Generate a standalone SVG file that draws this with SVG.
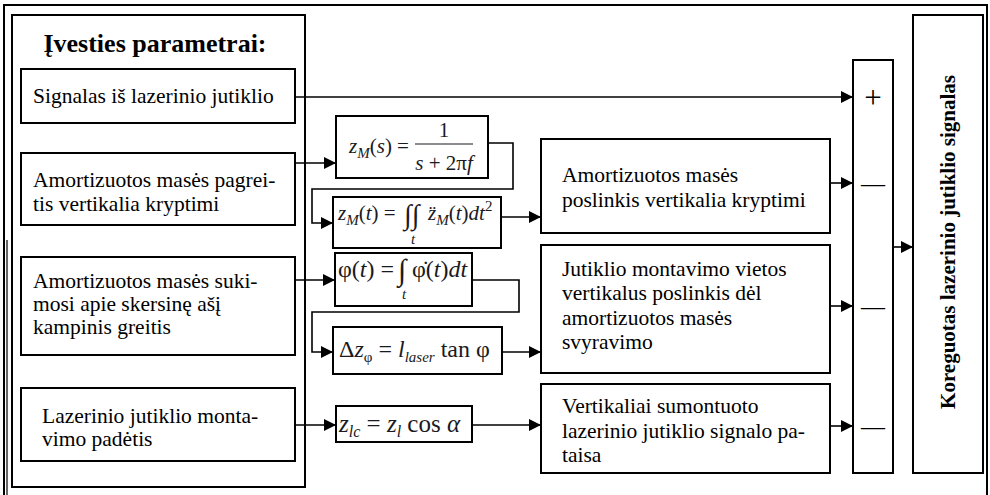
<svg xmlns="http://www.w3.org/2000/svg" width="990" height="495" viewBox="0 0 990 495" font-family="'Liberation Serif', 'Times New Roman', 'DejaVu Serif', serif">
  <defs>
    <marker id="arrow" markerUnits="userSpaceOnUse" markerWidth="13" markerHeight="12" refX="12" refY="6" orient="auto">
      <path d="M0,0 L12,6 L0,12 Z" fill="#000"/>
    </marker>
  </defs>
  <style>
    .box { fill: #fff; stroke: #000; stroke-width: 2; }
    .frame { fill: none; stroke: #000; stroke-width: 2; }
    .wire { fill: none; stroke: #000; stroke-width: 1.6; }
    .arr { marker-end: url(#arrow); }
    .lbl { font-size: 21.5px; }
    .eq { fill: #1a1a22; }
    .it { font-style: italic; }
    .sign { font-size: 24px; text-anchor: middle; }
  </style>

  <rect width="990" height="495" fill="#fff"/>

  <!-- outer frame (open at the bottom) -->
  <path d="M4,495 V5 H987 V495" fill="none" stroke="#000" stroke-width="2"/>
  <path d="M7,240 V495" fill="none" stroke="#000" stroke-width="1.2"/>

  <!-- input panel -->
  <g id="inputs">
    <rect class="frame" x="12" y="15" width="293" height="472"/>
    <text x="155" y="52" font-size="26" font-weight="bold" text-anchor="middle">Įvesties parametrai:</text>
  </g>

  <g id="in-signal">
    <rect class="box" x="21" y="69" width="274" height="54"/>
    <text class="lbl" x="33" y="103">Signalas iš lazerinio jutiklio</text>
  </g>

  <g id="in-accel">
    <rect class="box" x="21" y="153" width="274" height="72"/>
    <text class="lbl" x="33" y="187">Amortizuotos masės pagrei-</text>
    <text class="lbl" x="33" y="211">tis vertikalia kryptimi</text>
  </g>

  <g id="in-rate">
    <rect class="box" x="21" y="257" width="274" height="98"/>
    <text class="lbl" x="33" y="288">Amortizuotos masės suki-</text>
    <text class="lbl" x="33" y="311">mosi apie skersinę ašį</text>
    <text class="lbl" x="33" y="334">kampinis greitis</text>
  </g>

  <g id="in-mount">
    <rect class="box" x="21" y="388" width="274" height="73"/>
    <text class="lbl" x="42" y="423">Lazerinio jutiklio monta-</text>
    <text class="lbl" x="42" y="446">vimo padėtis</text>
  </g>

  <!-- transfer function -->
  <g id="eq-transfer">
    <rect class="box" x="336" y="116" width="152" height="62"/>
    <text class="eq" x="349" y="153" font-size="21"><tspan class="it">z</tspan><tspan class="it" font-size="15" dy="5">M</tspan><tspan dy="-5">(</tspan><tspan class="it">s</tspan>) =</text>
    <line x1="415" y1="144" x2="473" y2="144" stroke="#1a1a22" stroke-width="1.2"/>
    <text class="eq" x="444" y="137" font-size="21" text-anchor="middle">1</text>
    <text class="eq" x="444" y="170" font-size="21" text-anchor="middle"><tspan class="it">s</tspan> + 2π<tspan class="it">f</tspan></text>
  </g>

  <!-- double integration -->
  <g id="eq-displacement">
    <rect class="box" x="333" y="197" width="168" height="51"/>
    <text class="eq" x="338" y="220" font-size="21"><tspan class="it">z</tspan><tspan class="it" font-size="15" dy="5">M</tspan><tspan dy="-5">(</tspan><tspan class="it">t</tspan>) =</text>
    <text class="eq" x="404" y="224" font-size="28">∫∫</text>
    <text class="eq" x="428" y="220" font-size="21"><tspan class="it">z̈</tspan><tspan class="it" font-size="15" dy="5">M</tspan><tspan dy="-5">(</tspan><tspan class="it">t</tspan>)<tspan class="it">dt</tspan><tspan font-size="15" dy="-9">2</tspan></text>
    <text class="eq it" x="413" y="244" font-size="15" text-anchor="middle">t</text>
  </g>

  <!-- angle integration -->
  <g id="eq-angle">
    <rect class="box" x="335" y="253" width="137" height="53"/>
    <text class="eq" x="338" y="277" font-size="24">φ(<tspan class="it">t</tspan>) =</text>
    <text class="eq" x="398" y="280" font-size="30">∫</text>
    <text class="eq" x="412" y="277" font-size="24">φ̇(<tspan class="it">t</tspan>)<tspan class="it">dt</tspan></text>
    <text class="eq it" x="404" y="299" font-size="15" text-anchor="middle">t</text>
  </g>

  <!-- lever arm offset -->
  <g id="eq-lever">
    <rect class="box" x="333" y="327" width="169" height="47"/>
    <text class="eq" x="339" y="357" font-size="24">Δ<tspan class="it">z</tspan><tspan font-size="15" dy="5">φ</tspan><tspan dy="-5"> = </tspan><tspan class="it">l</tspan><tspan class="it" font-size="15" dy="5">laser</tspan><tspan dy="-5"> tan φ</tspan></text>
  </g>

  <!-- mounting angle -->
  <g id="eq-mount">
    <rect class="box" x="336" y="406" width="136" height="36"/>
    <text class="eq" x="339" y="432" font-size="25"><tspan class="it">z</tspan><tspan class="it" font-size="16" dy="5">lc</tspan><tspan dy="-5"> = </tspan><tspan class="it">z</tspan><tspan class="it" font-size="16" dy="5">l</tspan><tspan dy="-5"> cos </tspan><tspan class="it">α</tspan></text>
  </g>

  <!-- intermediate results -->
  <g id="out-displacement">
    <rect class="box" x="541" y="139" width="289" height="94"/>
    <text class="lbl" x="562" y="182">Amortizuotos masės</text>
    <text class="lbl" x="562" y="207">poslinkis vertikalia kryptimi</text>
  </g>

  <g id="out-lever">
    <rect class="box" x="541" y="245" width="289" height="128"/>
    <text class="lbl" x="562" y="276">Jutiklio montavimo vietos</text>
    <text class="lbl" x="562" y="300">vertikalus poslinkis dėl</text>
    <text class="lbl" x="562" y="325">amortizuotos masės</text>
    <text class="lbl" x="562" y="349">svyravimo</text>
  </g>

  <g id="out-mount">
    <rect class="box" x="541" y="384" width="289" height="89"/>
    <text class="lbl" x="562" y="413">Vertikaliai sumontuoto</text>
    <text class="lbl" x="562" y="438">lazerinio jutiklio signalo pa-</text>
    <text class="lbl" x="562" y="462">taisa</text>
  </g>

  <!-- summing junction -->
  <g id="sum">
    <rect class="box" x="853" y="60" width="40" height="413"/>
    <text x="873" y="108" font-size="31" text-anchor="middle">+</text>
    <text class="sign" x="873" y="191">—</text>
    <text class="sign" x="873" y="314">—</text>
    <text class="sign" x="873" y="434">—</text>
  </g>

  <!-- corrected output -->
  <g id="result">
    <rect class="box" x="913" y="15" width="70" height="458"/>
    <text transform="translate(955,242) rotate(-90)" font-size="21" font-weight="bold" text-anchor="middle">Koreguotas lazerinio jutiklio signalas</text>
  </g>

  <!-- connectors -->
  <g id="connectors">
    <path class="wire arr" d="M295,97 H853"/>
    <path class="wire arr" d="M295,163 H336"/>
    <path class="wire arr" d="M488,143 H513 V189 H312 V223 H333"/>
    <path class="wire arr" d="M501,217 H541"/>
    <path class="wire arr" d="M295,280 H335"/>
    <path class="wire arr" d="M472,280 H519 V312 H312 V352 H333"/>
    <path class="wire arr" d="M502,352 H541"/>
    <path class="wire arr" d="M295,425 H336"/>
    <path class="wire arr" d="M472,425 H541"/>
    <path class="wire arr" d="M830,183 H853"/>
    <path class="wire arr" d="M830,306 H853"/>
    <path class="wire arr" d="M830,426 H853"/>
    <path class="wire arr" d="M893,247 H913"/>
  </g>
</svg>
